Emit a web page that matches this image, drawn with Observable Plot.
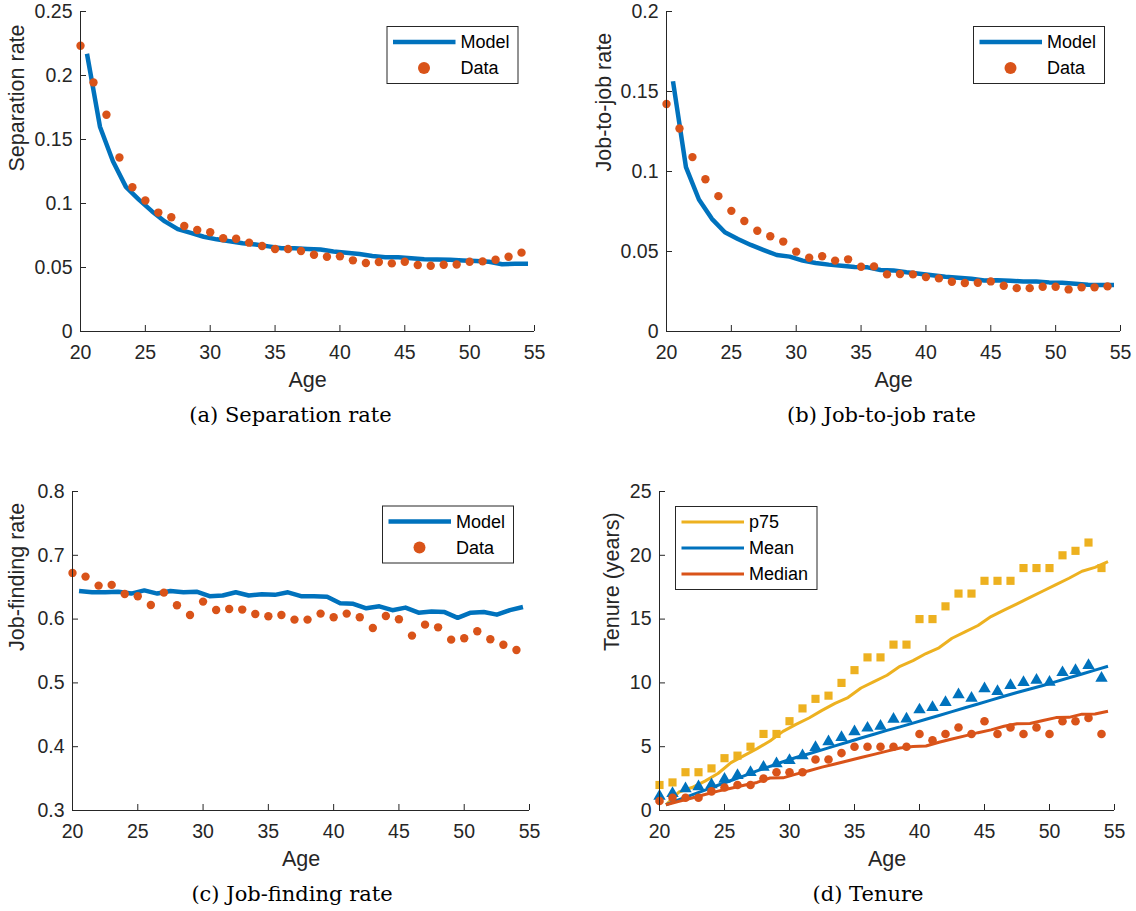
<!DOCTYPE html>
<html>
<head>
<meta charset="utf-8">
<script src="https://cdn.jsdelivr.net/npm/d3@7"></script>
<script src="https://cdn.jsdelivr.net/npm/@observablehq/plot@0.6"></script>
<style>
  html, body { margin: 0; padding: 0; background: #fff; }
  #fig { position: relative; width: 1136px; height: 911px; overflow: hidden; background: #fff; }
  #fig > svg { position: absolute; }
</style>
</head>
<body>
<div id="fig"></div>
<script>
// Ages of the observed data points and of the model curve
const dataAges = [20,21,22,23,24,25,26,27,28,29,30,31,32,33,34,35,36,37,38,39,40,41,42,43,44,45,46,47,48,49,50,51,52,53,54];
const modelAges = [20.5,21.5,22.5,23.5,24.5,25.5,26.5,27.5,28.5,29.5,30.5,31.5,32.5,33.5,34.5,35.5,36.5,37.5,38.5,39.5,40.5,41.5,42.5,43.5,44.5,45.5,46.5,47.5,48.5,49.5,50.5,51.5,52.5,53.5,54.5];
const ageTicks = [20,25,30,35,40,45,50,55];

// (a) Separation rate
const sepData = [0.2233,0.1946,0.1693,0.1359,0.1127,0.1023,0.0929,0.0892,0.0824,0.0793,0.0775,0.0728,0.0725,0.0694,0.0668,0.0644,0.0644,0.0629,0.0600,0.0584,0.0587,0.0556,0.0535,0.0543,0.0532,0.0545,0.0519,0.0514,0.0522,0.0524,0.0545,0.0548,0.0561,0.0584,0.0616];
const sepModel = [0.217,0.160,0.133,0.113,0.103,0.094,0.086,0.080,0.077,0.074,0.072,0.0705,0.069,0.068,0.0665,0.065,0.065,0.0645,0.064,0.0625,0.0615,0.0605,0.059,0.058,0.058,0.0572,0.0565,0.0562,0.056,0.0555,0.055,0.0545,0.0525,0.053,0.053];
const sepTicks = [0,0.05,0.1,0.15,0.2,0.25];

// (b) Job-to-job rate
const j2jData = [0.1422,0.1269,0.1090,0.0952,0.0846,0.0754,0.0691,0.0630,0.0595,0.0562,0.0499,0.0461,0.0470,0.0443,0.0451,0.0405,0.0407,0.0357,0.0359,0.0357,0.0340,0.0332,0.0311,0.0303,0.0305,0.0313,0.0286,0.0271,0.0271,0.0280,0.0280,0.0263,0.0276,0.0276,0.0282];
const j2jModel = [0.1564,0.1027,0.0825,0.0704,0.0620,0.0578,0.0541,0.0509,0.0478,0.0468,0.0443,0.0428,0.0418,0.0411,0.0403,0.0401,0.0384,0.0382,0.0370,0.0361,0.0351,0.0342,0.0336,0.0330,0.0319,0.0321,0.0317,0.0313,0.0313,0.0307,0.0305,0.0299,0.0292,0.0290,0.0290];
const j2jTicks = [0,0.05,0.1,0.15,0.2];

// (c) Job-finding rate
const jfData = [0.6724,0.6666,0.6525,0.6536,0.6394,0.6358,0.6222,0.6415,0.6217,0.6065,0.6274,0.6143,0.6159,0.6149,0.6081,0.6044,0.6065,0.5992,0.5992,0.6086,0.6028,0.6086,0.6028,0.5861,0.6049,0.5997,0.5741,0.5913,0.5871,0.5678,0.5699,0.5809,0.5683,0.5599,0.5516];
const jfModel = [0.644,0.642,0.642,0.643,0.640,0.645,0.640,0.644,0.642,0.643,0.636,0.637,0.642,0.637,0.639,0.638,0.642,0.636,0.636,0.635,0.625,0.624,0.617,0.620,0.614,0.618,0.610,0.612,0.611,0.602,0.610,0.611,0.607,0.614,0.619];
const jfTicks = [0.3,0.4,0.5,0.6,0.7,0.8];

// (d) Tenure in years
const p75Data = [2,2.2,3,3,3.3,4.1,4.3,5,6,6,7,8,8.75,9,10,11,12,12,13,13,15,15,16,17,17,18,18,18,19,19,19,20,20.35,21,19];
const meanData = [1.25,1.46,1.83,1.98,2.14,2.58,2.87,3.11,3.52,3.78,4.04,4.41,5.06,5.51,5.85,6.29,6.58,6.73,7.28,7.3,8.01,8.19,8.59,9.19,8.92,9.66,9.45,9.92,10.15,10.33,10.18,10.93,11.09,11.48,10.49];
const medianData = [0.75,1,1,1,1.5,1.8,2,2,2.5,3,3,3,4,4,4.5,5,5,5,5,5,6,5.5,6,6.5,6,7,6,6.5,6,6.5,6,7,7,7.25,6];
const p75Model = [0.45,1.45,1.8,2.3,2.9,3.75,4.3,4.85,5.45,6.2,6.75,7.25,7.85,8.4,8.85,9.6,10.1,10.6,11.3,11.75,12.3,12.75,13.5,14.0,14.5,15.2,15.7,16.2,16.7,17.2,17.7,18.2,18.75,19.05,19.5];
const meanModel = [0.45,0.85,1.23,1.6,1.98,2.35,2.72,3.1,3.46,3.82,4.15,4.45,4.75,5.06,5.37,5.68,5.98,6.28,6.55,6.85,7.15,7.45,7.75,8.05,8.35,8.65,8.95,9.25,9.52,9.8,10.1,10.4,10.7,11.0,11.3];
const medianModel = [0.45,0.72,0.98,1.25,1.52,1.75,1.98,2.2,2.55,2.56,2.85,3.12,3.4,3.65,3.9,4.15,4.4,4.65,4.9,5.02,5.05,5.35,5.6,5.85,6.1,6.32,6.6,6.8,6.82,7.05,7.28,7.3,7.55,7.57,7.78];
const tenureTicks = [0,5,10,15,20,25];

const BLUE = "#0072BD", ORANGE = "#D95319", YELLOW = "#EDB120", AXIS = "#262626";
const SANS = "'Liberation Sans', Arial, Helvetica, sans-serif";
const SERIF = "'DejaVu Serif', 'Liberation Serif', serif";

const series = (xs, ys) => xs.map((x, i) => ({x, y: ys[i]}));
const fig = document.getElementById("fig");

// One subfigure: axes box with inward ticks, axis titles and a serif caption beneath
function panel({left, top, width, height, margins, yDomain, yTicks, yLabel, yLabelDx, caption, captionDx, marks}) {
  const [mL, mR, mT, mB] = margins;
  const plotW = width - mL - mR, plotH = height - mT - mB;
  const chart = Plot.plot({
    width, height,
    marginLeft: mL, marginRight: mR, marginTop: mT, marginBottom: mB,
    style: {fontFamily: SANS, color: AXIS, background: "transparent", overflow: "visible"},
    x: {domain: [20, 55]},
    y: {domain: yDomain},
    marks: [
      ...marks,
      Plot.ruleY([yDomain[0]], {stroke: AXIS, strokeWidth: 1}),
      Plot.ruleX([20], {stroke: AXIS, strokeWidth: 1}),
      Plot.tickX(ageTicks, {x: d => d, stroke: AXIS, insetTop: plotH - 6}),
      Plot.tickY(yTicks, {y: d => d, stroke: AXIS, insetRight: plotW - 6}),
      Plot.axisX(ageTicks, {tickSize: 0, tickPadding: 14, tickFormat: d => String(d), fontSize: 19.5, fill: AXIS, label: null}),
      Plot.axisY(yTicks, {tickSize: 0, tickPadding: 8, tickFormat: d => String(d), fontSize: 19.5, fill: AXIS, label: null}),
      Plot.text(["Age"], {frameAnchor: "bottom", dy: 49, lineAnchor: "middle", fontSize: 21.5, fill: AXIS}),
      Plot.text([yLabel], {frameAnchor: "left", dx: yLabelDx, rotate: -90, lineAnchor: "middle", fontSize: 21.5, fill: AXIS}),
      Plot.text([caption], {frameAnchor: "bottom", dx: captionDx, dy: 84, lineAnchor: "middle", fontFamily: SERIF, fontSize: 21, fill: "#000"})
    ]
  });
  chart.style.left = left + "px";
  chart.style.top = top + "px";
  fig.appendChild(chart);
}

// Boxed legend, drawn in an overlay above the panels
const overlay = d3.select(fig).append("svg")
  .attr("width", 1136).attr("height", 911)
  .style("left", "0px").style("top", "0px").style("pointer-events", "none");

function legend({x, y, w, lineWidth, entries}) {
  const g = overlay.append("g").attr("transform", `translate(${x},${y})`);
  g.append("rect").attr("x", 0.5).attr("y", 0.5).attr("width", w).attr("height", 26 * entries.length + 5)
    .attr("fill", "#fff").attr("stroke", AXIS).attr("stroke-width", 1);
  entries.forEach((e, i) => {
    const cy = 16 + 26 * i;
    if (e.kind === "line") {
      g.append("line").attr("x1", 6.5).attr("x2", 69).attr("y1", cy).attr("y2", cy)
        .attr("stroke", e.color).attr("stroke-width", lineWidth);
    } else {
      g.append("circle").attr("cx", 37.5).attr("cy", cy).attr("r", 6).attr("fill", e.color);
    }
    g.append("text").attr("x", 74).attr("y", cy).attr("dy", "0.36em")
      .attr("font-family", SANS).attr("font-size", 18).attr("fill", "#000").text(e.label);
  });
}

const modelDataMarks = (model, data) => [
  Plot.line(series(modelAges, model), {x: "x", y: "y", stroke: BLUE, strokeWidth: 4.5, strokeLinecap: "butt", strokeLinejoin: "round"}),
  Plot.dot(series(dataAges, data), {x: "x", y: "y", r: 4.2, fill: ORANGE})
];

panel({
  left: 0, top: 0, width: 568, height: 440, margins: [80, 34, 11, 109],
  yDomain: [0, 0.25], yTicks: sepTicks, yLabel: "Separation rate", yLabelDx: -63,
  caption: "(a) Separation rate", captionDx: -17,
  marks: modelDataMarks(sepModel, sepData)
});

panel({
  left: 568, top: 0, width: 568, height: 440, margins: [98, 16, 11, 109],
  yDomain: [0, 0.2], yTicks: j2jTicks, yLabel: "Job-to-job rate", yLabelDx: -62,
  caption: "(b) Job-to-job rate", captionDx: -12,
  marks: modelDataMarks(j2jModel, j2jData)
});

panel({
  left: 0, top: 480, width: 568, height: 431, margins: [72, 39, 11, 101],
  yDomain: [0.3, 0.8], yTicks: jfTicks, yLabel: "Job-finding rate", yLabelDx: -55,
  caption: "(c) Job-finding rate", captionDx: -9,
  marks: modelDataMarks(jfModel, jfData)
});

panel({
  left: 568, top: 480, width: 568, height: 431, margins: [91, 22, 11, 101],
  yDomain: [0, 25], yTicks: tenureTicks, yLabel: "Tenure (years)", yLabelDx: -47,
  caption: "(d) Tenure", captionDx: -19,
  marks: [
    Plot.line(series(modelAges, p75Model), {x: "x", y: "y", stroke: YELLOW, strokeWidth: 3, strokeLinecap: "butt"}),
    Plot.line(series(modelAges, meanModel), {x: "x", y: "y", stroke: BLUE, strokeWidth: 3, strokeLinecap: "butt"}),
    Plot.line(series(modelAges, medianModel), {x: "x", y: "y", stroke: ORANGE, strokeWidth: 3, strokeLinecap: "butt"}),
    Plot.dot(series(dataAges, p75Data), {x: "x", y: "y", symbol: "square", r: 4.6, fill: YELLOW}),
    Plot.dot(series(dataAges, meanData), {x: "x", y: "y", symbol: "triangle", r: 4.6, dy: 1.5, fill: BLUE}),
    Plot.dot(series(dataAges, medianData), {x: "x", y: "y", r: 4.3, fill: ORANGE})
  ]
});

legend({x: 386.5, y: 26, w: 131, lineWidth: 4.5, entries: [
  {kind: "line", color: BLUE, label: "Model"}, {kind: "dot", color: ORANGE, label: "Data"}]});
legend({x: 973, y: 26, w: 131, lineWidth: 4.5, entries: [
  {kind: "line", color: BLUE, label: "Model"}, {kind: "dot", color: ORANGE, label: "Data"}]});
legend({x: 382, y: 505.5, w: 131, lineWidth: 4.5, entries: [
  {kind: "line", color: BLUE, label: "Model"}, {kind: "dot", color: ORANGE, label: "Data"}]});
legend({x: 675, y: 506, w: 141.5, lineWidth: 3, entries: [
  {kind: "line", color: YELLOW, label: "p75"}, {kind: "line", color: BLUE, label: "Mean"}, {kind: "line", color: ORANGE, label: "Median"}]});
</script>
</body>
</html>
